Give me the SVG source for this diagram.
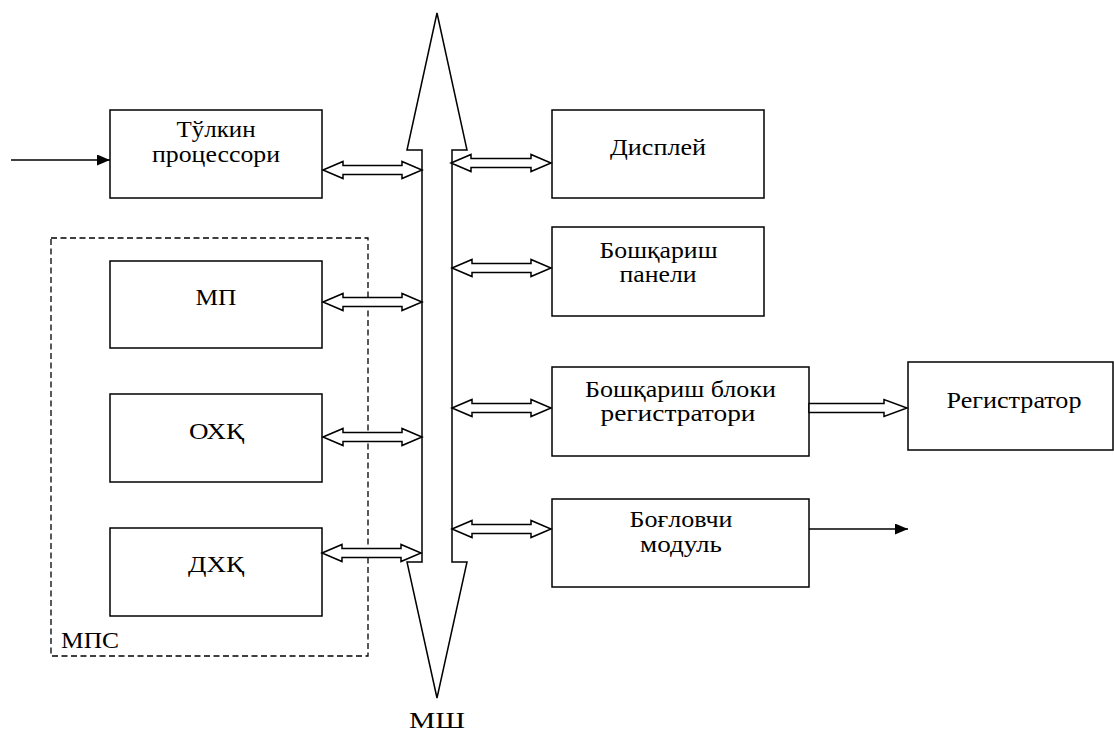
<svg xmlns="http://www.w3.org/2000/svg" width="1114" height="731" viewBox="0 0 1114 731">
<style>
.box{fill:#fff;stroke:#000;stroke-width:1.5}
.dash{fill:none;stroke:#000;stroke-width:1.3;stroke-dasharray:6 3.5}
.hollow{fill:#fff;stroke:#000;stroke-width:1.5;stroke-linejoin:miter}
.line{stroke:#000;stroke-width:1.6;fill:none}
text{font-family:"Liberation Serif","Times New Roman",serif;font-size:23px;fill:#000}
.c{text-anchor:middle}
</style>
<defs>
<marker id="ah" markerUnits="userSpaceOnUse" markerWidth="14" markerHeight="12" refX="13" refY="5.5" orient="auto">
<path d="M0,0 L13,5.5 L0,11 Z" fill="#000"/>
</marker>
</defs>
<rect width="1114" height="731" fill="#fff"/>

<g id="mps">
<rect class="dash" x="51" y="238" width="317" height="418"/>
<text x="61" y="648" textLength="58" lengthAdjust="spacingAndGlyphs">МПС</text>
</g>

<g id="bus">
<polygon class="hollow" points="437,13 467,150 452,150 452,562 467,562 437,698 407,562 422,562 422,150 407,150"/>
<text class="c" x="437" y="728" textLength="56" lengthAdjust="spacingAndGlyphs">МШ</text>
</g>

<g id="wave-processor">
<rect class="box" x="110" y="110" width="212" height="88"/>
<text class="c" x="216" y="137" textLength="79" lengthAdjust="spacingAndGlyphs">Тўлкин</text>
<text class="c" x="216" y="162" textLength="128" lengthAdjust="spacingAndGlyphs">процессори</text>
</g>

<g id="mp">
<rect class="box" x="110" y="261" width="212" height="87"/>
<text class="c" x="216" y="305" textLength="41" lengthAdjust="spacingAndGlyphs">МП</text>
</g>

<g id="ohk">
<rect class="box" x="110" y="394" width="212" height="88"/>
<text class="c" x="216.5" y="439" textLength="55" lengthAdjust="spacingAndGlyphs">ОХҚ</text>
</g>

<g id="dhk">
<rect class="box" x="110" y="528" width="212" height="88"/>
<text class="c" x="216" y="572" textLength="56" lengthAdjust="spacingAndGlyphs">ДХҚ</text>
</g>

<g id="display">
<rect class="box" x="552" y="110" width="212" height="88"/>
<text class="c" x="658" y="155" textLength="96" lengthAdjust="spacingAndGlyphs">Дисплей</text>
</g>

<g id="control-panel">
<rect class="box" x="552" y="227" width="212" height="89"/>
<text class="c" x="658.5" y="258" textLength="118" lengthAdjust="spacingAndGlyphs">Бошқариш</text>
<text class="c" x="658" y="282" textLength="77" lengthAdjust="spacingAndGlyphs">панели</text>
</g>

<g id="recorder-control">
<rect class="box" x="552" y="367" width="257" height="89"/>
<text class="c" x="680.5" y="397" textLength="191" lengthAdjust="spacingAndGlyphs">Бошқариш блоки</text>
<text class="c" x="678" y="421" textLength="155" lengthAdjust="spacingAndGlyphs">регистратори</text>
</g>

<g id="interface-module">
<rect class="box" x="552" y="499" width="257" height="88"/>
<text class="c" x="681" y="527" textLength="103" lengthAdjust="spacingAndGlyphs">Боғловчи</text>
<text class="c" x="681" y="552" textLength="82" lengthAdjust="spacingAndGlyphs">модуль</text>
</g>

<g id="recorder">
<rect class="box" x="908" y="362" width="205" height="88"/>
<text class="c" x="1014" y="408" textLength="135" lengthAdjust="spacingAndGlyphs">Регистратор</text>
</g>

<g id="connectors">
<line class="line" x1="11" y1="160" x2="110" y2="160" marker-end="url(#ah)"/>
<line class="line" x1="809" y1="529" x2="908" y2="529" marker-end="url(#ah)"/>
<path class="hollow" d="M323,170 L343,161.5 L343,165.5 L402,165.5 L402,161.5 L422,170 L402,178.5 L402,174.5 L343,174.5 L343,178.5 Z"/>
<path class="hollow" d="M451,163 L471,154.5 L471,158.5 L531,158.5 L531,154.5 L551,163 L531,171.5 L531,167.5 L471,167.5 L471,171.5 Z"/>
<path class="hollow" d="M452,268 L472,259.5 L472,263.5 L531,263.5 L531,259.5 L551,268 L531,276.5 L531,272.5 L472,272.5 L472,276.5 Z"/>
<path class="hollow" d="M323,302 L343,293.5 L343,297.5 L402,297.5 L402,293.5 L422,302 L402,310.5 L402,306.5 L343,306.5 L343,310.5 Z"/>
<path class="hollow" d="M323,437 L343,428.5 L343,432.5 L402,432.5 L402,428.5 L422,437 L402,445.5 L402,441.5 L343,441.5 L343,445.5 Z"/>
<path class="hollow" d="M452,408 L472,399.5 L472,403.5 L531,403.5 L531,399.5 L551,408 L531,416.5 L531,412.5 L472,412.5 L472,416.5 Z"/>
<path class="hollow" d="M322,553 L342,544.5 L342,548.5 L401,548.5 L401,544.5 L421,553 L401,561.5 L401,557.5 L342,557.5 L342,561.5 Z"/>
<path class="hollow" d="M452,529 L472,520.5 L472,524.5 L531,524.5 L531,520.5 L551,529 L531,537.5 L531,533.5 L472,533.5 L472,537.5 Z"/>
<path class="hollow" d="M809,403.5 L884,403.5 L884,399.5 L907,408 L884,416.5 L884,412.5 L809,412.5 Z"/>
</g>
</svg>
